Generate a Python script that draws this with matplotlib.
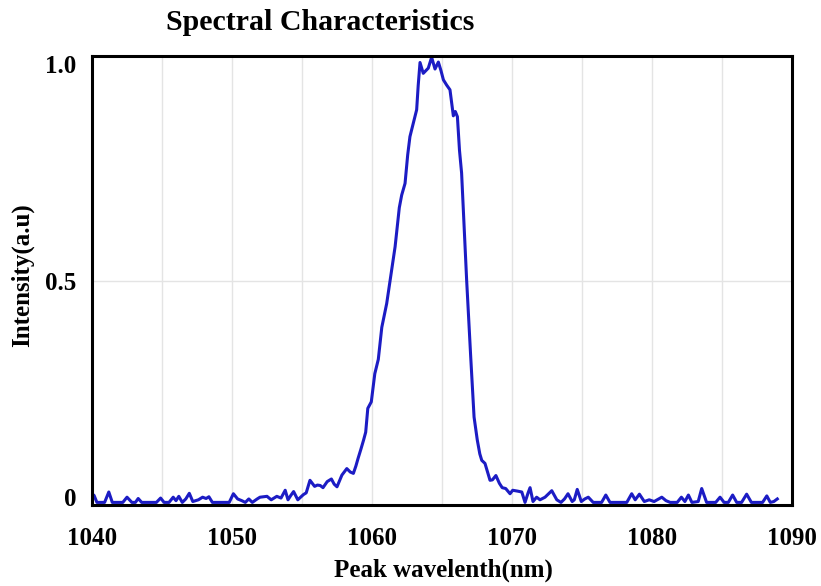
import matplotlib
matplotlib.use('Agg')
import matplotlib.pyplot as plt

# spectrum (nm, a.u.)
wavelength = [1040.0, 1040.15, 1040.35, 1040.9, 1041.2, 1041.45, 1042.2, 1042.5, 1042.85, 1043.1,
	1043.3, 1043.55, 1044.6, 1044.9, 1045.15, 1045.5, 1045.8, 1046.0, 1046.2, 1046.45,
	1046.7, 1046.95, 1047.2, 1047.6, 1047.9, 1048.15, 1048.35, 1048.6, 1049.8, 1050.1,
	1050.4, 1050.7, 1050.95, 1051.2, 1051.45, 1051.8, 1052.0, 1052.5, 1052.8, 1053.0,
	1053.2, 1053.5, 1053.8, 1054.0, 1054.2, 1054.4, 1054.7, 1055.1, 1055.3, 1055.57,
	1055.9, 1056.1, 1056.3, 1056.5, 1056.8, 1057.1, 1057.3, 1057.5, 1057.85, 1058.2,
	1058.45, 1058.67, 1058.85, 1059.0, 1059.2, 1059.4, 1059.55, 1059.7, 1059.95, 1060.2,
	1060.45, 1060.7, 1061.05, 1061.3, 1061.65, 1061.95, 1062.12, 1062.36, 1062.55, 1062.71,
	1062.95, 1063.19, 1063.3, 1063.43, 1063.66, 1064.02, 1064.26, 1064.5, 1064.74, 1064.92,
	1065.1, 1065.33, 1065.57, 1065.81, 1065.95, 1066.1, 1066.25, 1066.4, 1066.57, 1066.76,
	1067.05, 1067.29, 1067.52, 1067.7, 1067.84, 1068.07, 1068.43, 1068.6, 1068.85, 1069.1,
	1069.3, 1069.55, 1069.86, 1070.05, 1070.4, 1070.7, 1070.93, 1071.15, 1071.29, 1071.5,
	1071.76, 1072.0, 1072.36, 1072.84, 1073.2, 1073.5, 1073.75, 1074.0, 1074.3, 1074.45,
	1074.66, 1074.95, 1075.2, 1075.45, 1075.8, 1076.4, 1076.7, 1077.0, 1078.2, 1078.55,
	1078.8, 1079.1, 1079.45, 1079.8, 1080.15, 1080.7, 1081.0, 1081.3, 1081.8, 1082.1,
	1082.35, 1082.6, 1082.85, 1083.3, 1083.55, 1083.9, 1084.55, 1084.86, 1085.15, 1085.45,
	1085.76, 1086.05, 1086.4, 1086.76, 1087.1, 1087.9, 1088.2, 1088.45, 1088.7, 1088.95]
intensity = [0.008, 0.004, -0.012, -0.012, 0.012, -0.012, -0.012, 0.0, -0.012, -0.012,
	-0.003, -0.012, -0.012, -0.002, -0.012, -0.012, 0.0, -0.008, 0.002, -0.012,
	-0.004, 0.009, -0.010, -0.006, 0.0, -0.003, 0.001, -0.012, -0.012, 0.008,
	-0.004, -0.008, -0.012, -0.004, -0.012, -0.004, 0.0, 0.002, -0.006, -0.002,
	0.002, -0.002, 0.016, -0.006, 0.004, 0.013, -0.006, 0.006, 0.010, 0.039,
	0.025, 0.028, 0.027, 0.022, 0.036, 0.042, 0.030, 0.024, 0.051, 0.066,
	0.058, 0.055, 0.072, 0.089, 0.110, 0.132, 0.150, 0.205, 0.220, 0.285,
	0.318, 0.392, 0.447, 0.502, 0.578, 0.668, 0.697, 0.724, 0.790, 0.832,
	0.863, 0.894, 0.950, 1.003, 0.978, 0.990, 1.015, 0.988, 1.004, 0.985,
	0.963, 0.951, 0.940, 0.880, 0.890, 0.878, 0.800, 0.748, 0.632, 0.501,
	0.324, 0.185, 0.132, 0.100, 0.085, 0.078, 0.039, 0.040, 0.050, 0.032,
	0.022, 0.020, 0.008, 0.016, 0.014, 0.012, -0.012, 0.010, 0.022, -0.010,
	0.0, -0.006, 0.0, 0.015, -0.006, -0.012, -0.004, 0.008, -0.010, -0.006,
	0.018, -0.010, -0.004, 0.0, -0.012, -0.012, 0.005, -0.012, -0.012, 0.008,
	-0.006, 0.007, -0.010, -0.006, -0.010, 0.0, -0.008, -0.012, -0.012, 0.0,
	-0.010, 0.005, -0.012, -0.010, 0.020, -0.012, -0.012, 0.0, -0.012, -0.012,
	0.005, -0.012, -0.012, 0.007, -0.012, -0.012, 0.003, -0.012, -0.010, -0.004]

xticks = [1040, 1050, 1060, 1070, 1080, 1090]
yticks = [0, 0.5, 1.0]
ytick_labels = ['0', '0.5', '1.0']

font = 'Liberation Serif'

fig = plt.figure(figsize=(8.21, 5.86), dpi=100)
ax = fig.add_axes([92/821, 1-505/586, 700/821, 449/586])

ax.plot(wavelength, intensity, color='#1c1cc4', lw=2.2, solid_joinstyle='round')

ax.set_xlim(1040, 1090)
ax.set_ylim(-0.018, 1.018)

# light grid: every 5 nm vertically, only the 0.5 line horizontally
for gx in range(1045, 1090, 5):
	ax.axvline(gx, color='#e4e4e4', lw=1, zorder=0)
ax.axhline(0.5, color='#e4e4e4', lw=1, zorder=0)

ax.set_xticks(xticks)
ax.set_yticks(yticks)
ax.set_yticklabels(ytick_labels)
ax.tick_params(axis='x', length=0, pad=16, labelsize=18)
ax.tick_params(axis='y', length=0, pad=11, labelsize=18)
for lab in ax.get_xticklabels() + ax.get_yticklabels():
	lab.set_fontfamily(font)
	lab.set_fontweight('bold')

for s in ax.spines.values():
	s.set_linewidth(2.2)
	s.set_color('black')

fig.text(443/821, 1-570/586, 'Peak wavelenth(nm)', ha='center', va='center',
	fontsize=18, fontweight='bold', family=font)
fig.text(22/821, 1-275/586, 'Intensity(a.u)', ha='center', va='center', rotation=90,
	fontsize=18, fontweight='bold', family=font)
fig.text(166/821, 1-22/586, 'Spectral Characteristics', ha='left', va='center',
	fontsize=21.5, fontweight='bold', family=font)

plt.savefig('out.png', dpi=100)
